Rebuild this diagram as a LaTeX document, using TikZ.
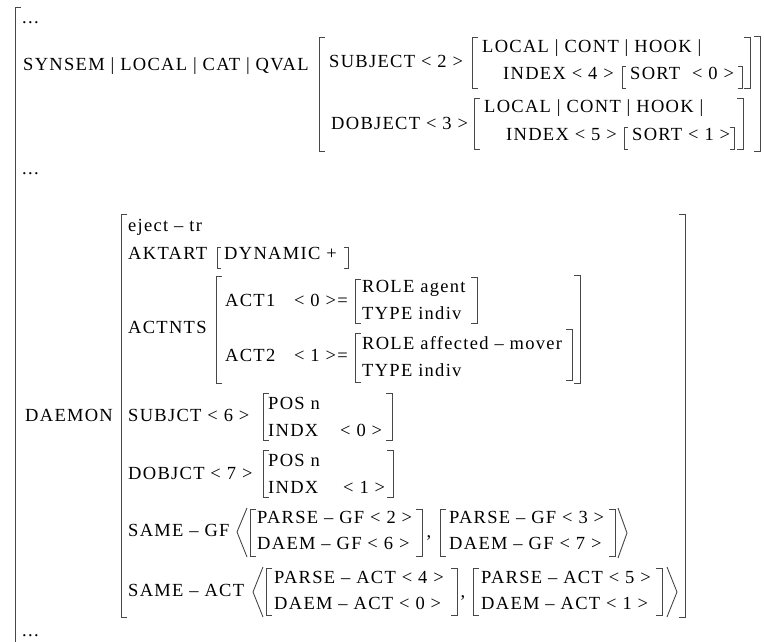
\documentclass[tikz,border=0pt]{standalone}
\usepackage{fontspec}
\setmainfont[LetterSpace=7]{Liberation Serif}
\newcommand\lbrk[4][6]{\draw[brk] (#2+#1,#3) -- (#2,#3) -- (#2,#4) -- (#2+#1,#4);}
\newcommand\rbrk[4][6]{\draw[brk] (#2-#1,#3) -- (#2,#3) -- (#2,#4) -- (#2-#1,#4);}
\begin{document}
\begin{tikzpicture}[x=1pt,y=-1pt,
  every node/.style={inner sep=0pt,font=\fontsize{18.5}{18.5}\selectfont},
  txt/.style={anchor=base west},
  txtr/.style={anchor=base east},
  brk/.style={line width=0.9pt,draw=black!72},
  ang/.style={line width=0.9pt,draw=black!72,line join=miter}]
\useasboundingbox (0,0) rectangle (764,642);

% outer matrix
\draw[brk] (21,7) -- (15,7) -- (15,642);
\node[txt] (dots1) at (22,24) {...};
\node[txt] (syn) at (23,71) {SYNSEM | LOCAL | CAT | QVAL};

% QVAL value
\lbrk{319}{37}{151}
\rbrk{760}{36}{151}
\node[txt] (subj) at (329,68) {SUBJECT < 2 >};
\lbrk{472}{37}{88}
\rbrk{750}{37}{88}
\node[txt] (loc1) at (482,53) {LOCAL | CONT | HOOK |};
\node[txt] (idx1) at (503,80) {INDEX < 4 >};
\lbrk[4]{622}{66}{88}
\node[txt] (sort1) at (630,80) {SORT \ < 0 >};
\rbrk[4]{742}{66}{88}

\node[txt] (dobj) at (331,129) {DOBJECT < 3 >};
\lbrk{474}{98}{149}
\rbrk{743}{98}{149}
\node[txt] (loc2) at (484,113) {LOCAL | CONT | HOOK |};
\node[txt] (idx2) at (506,141) {INDEX < 5 >};
\lbrk[4]{624}{127}{149}
\node[txt] (sort2) at (632,141) {SORT < 1 >};
\rbrk[4]{734}{127}{149}

\node[txt] (dots2) at (22,175) {...};

% DAEMON
\node[txt] (dmn) at (25,421) {DAEMON};
\lbrk{121}{214}{617}
\rbrk{685}{214}{617}
\node[txt] (ej) at (128,231) {eject – tr};
\node[txt] (akt) at (128,259) {AKTART};
\lbrk[4]{217}{247}{268}
\node[txt] (dyn) at (224,259) {DYNAMIC +};
\rbrk[4]{348}{247}{268}

\node[txt] (actn) at (128,333) {ACTNTS};
\lbrk{216}{276}{383}
\rbrk{580}{275}{383}
\node[txt] (act1) at (225,306) {ACT1};
\node[txtr] (eq1) at (348,306) {< 0 >=};
\lbrk{355}{279}{323}
\rbrk{477}{277}{323}
\node[txt] (role1) at (362,292) {ROLE agent};
\node[txt] (type1) at (362,319) {TYPE indiv};
\node[txt] (act2) at (225,361) {ACT2};
\node[txtr] (eq2) at (348,361) {< 1 >=};
\lbrk{355}{333}{382}
\rbrk{572}{329}{380}
\node[txt] (role2) at (362,349) {ROLE affected – mover};
\node[txt] (type2) at (362,376) {TYPE indiv};

\node[txt] (sbj) at (128,421) {SUBJCT < 6 >};
\lbrk{263}{393}{440}
\rbrk{392}{393}{440}
\node[txt] (pos1) at (268,409) {POS n};
\node[txt] (indx1) at (268,436) {INDX};
\node[txt] (i0) at (340,436) {< 0 >};

\node[txt] (dbj) at (128,479) {DOBJCT < 7 >};
\lbrk{263}{450}{497}
\rbrk{393}{450}{497}
\node[txt] (pos2) at (268,466) {POS n};
\node[txt] (indx2) at (268,493) {INDX};
\node[txt] (i1) at (343,493) {< 1 >};

% SAME-GF list
\node[txt] (sgf) at (128,536) {SAME – GF};
\draw[ang] (247,508) -- (237,532) -- (247,557);
\lbrk{250}{509}{556}
\node[txt] (pgf1) at (257,523) {PARSE – GF < 2 >};
\node[txt] (dgf1) at (257,549) {DAEM – GF < 6 >};
\rbrk{422}{509}{556}
\node[anchor=base] (c1) at (429,537) {,};
\lbrk{440}{509}{556}
\node[txt] (pgf2) at (449,523) {PARSE – GF < 3 >};
\node[txt] (dgf2) at (449,549) {DAEM – GF < 7 >};
\rbrk{615}{509}{556}
\draw[ang] (618,508) -- (627,533) -- (618,558);

% SAME-ACT list
\node[txt] (sact) at (128,596) {SAME – ACT};
\draw[ang] (263,567) -- (253,592) -- (263,617);
\lbrk{266}{568}{615}
\node[txt] (pact1) at (274,583) {PARSE – ACT < 4 >};
\node[txt] (dact1) at (274,609) {DAEM – ACT < 0 >};
\rbrk{457}{568}{615}
\node[anchor=base] (c2) at (463,597) {,};
\lbrk{473}{568}{615}
\node[txt] (pact2) at (481,583) {PARSE – ACT < 5 >};
\node[txt] (dact2) at (481,609) {DAEM – ACT < 1 >};
\rbrk{662}{568}{615}
\draw[ang] (667,567) -- (677,592) -- (667,617);

\node[txt] (dots3) at (22,636) {...};
\end{tikzpicture}
\end{document}
